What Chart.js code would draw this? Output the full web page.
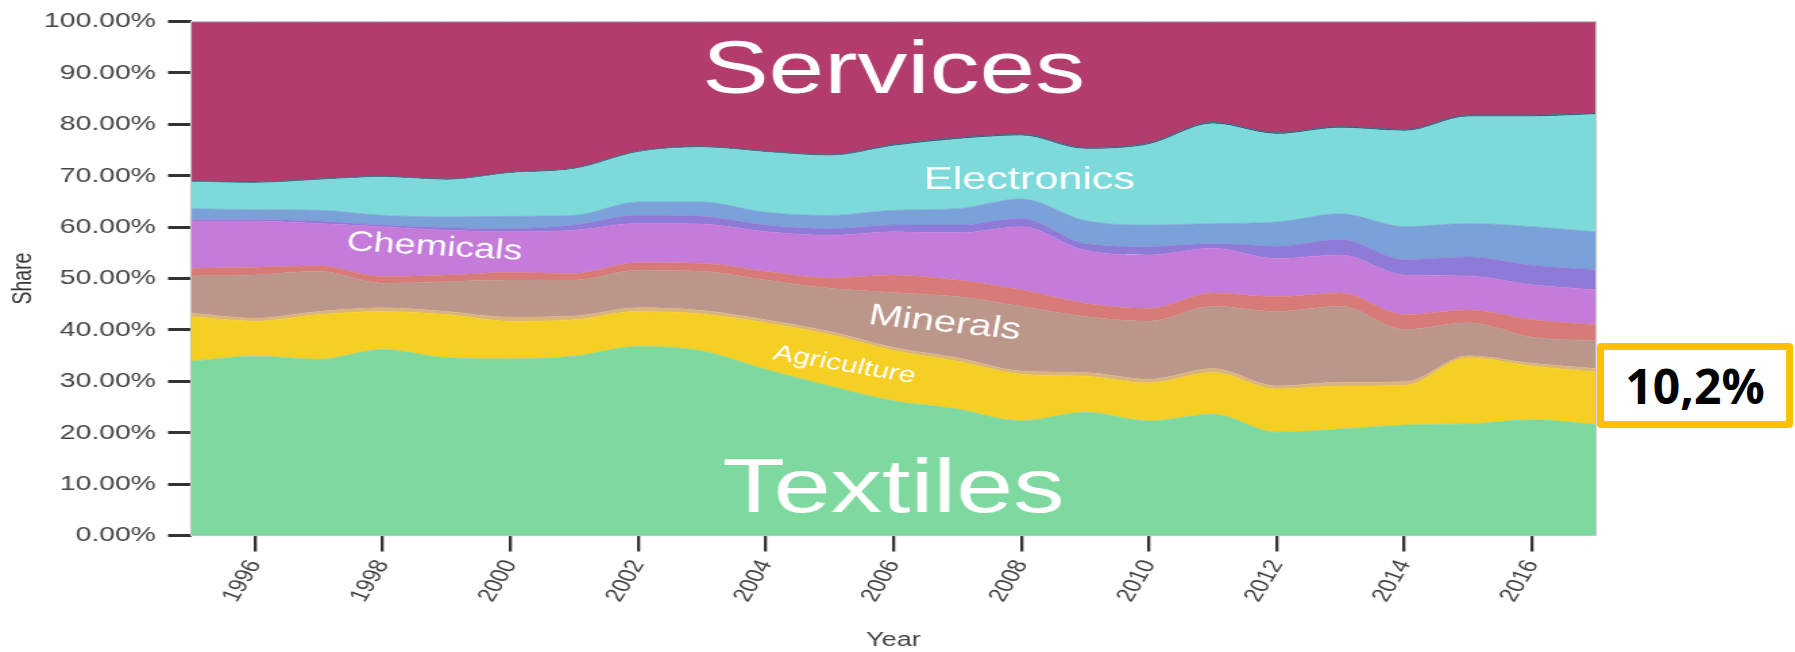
<!DOCTYPE html>
<html>
<head>
<meta charset="utf-8">
<script src="https://cdn.jsdelivr.net/npm/chart.js@4.4.1/dist/chart.umd.min.js"></script>
<style>
  html, body { margin: 0; padding: 0; background: #fff; overflow: hidden; }
  #chart { position: absolute; left: 0; top: 0; transform: scaleX(1.3496); transform-origin: 0 0; }
  #note {
    position: absolute; left: 1597px; top: 343px; width: 196px; height: 85px;
    box-sizing: border-box; border: 7px solid #ffc000; border-radius: 4px; background: #fff;
    display: flex; align-items: center; justify-content: center;
    font-family: "Open Sans", sans-serif; font-weight: 700; font-size: 48px; color: #000;
  }
</style>
</head>
<body>
<canvas id="chart" width="1330" height="652"></canvas>
<div id="note">10,2%</div>
<script>
"use strict";

const years = [1995, 1996, 1997, 1998, 1999, 2000, 2001, 2002, 2003, 2004, 2005, 2006,
  2007, 2008, 2009, 2010, 2011, 2012, 2013, 2014, 2015, 2016, 2017];

// shares in %, bottom band first
const textiles    = [33.9, 34.9, 34.3, 36.2, 34.6, 34.4, 34.9, 36.8, 35.9, 32.3, 29.1, 26.2, 24.6, 22.3, 24.0, 22.3, 23.6, 20.1, 20.7, 21.5, 21.7, 22.5, 21.6];
const agriculture = [8.7, 6.8, 8.7, 7.4, 8.4, 7.3, 7.1, 6.8, 7.2, 9.1, 10.0, 9.8, 9.3, 9.1, 7.0, 7.4, 8.1, 8.4, 8.4, 7.7, 12.9, 10.5, 10.2];
const stone       = [0.7, 0.6, 0.6, 0.7, 0.6, 0.8, 0.7, 0.7, 0.7, 0.6, 0.6, 0.6, 0.7, 0.6, 0.7, 0.7, 0.8, 0.6, 0.7, 0.7, 0.4, 0.5, 0.7];
const minerals    = [7.2, 8.4, 7.8, 4.8, 5.8, 7.2, 7.0, 7.3, 7.6, 7.7, 8.4, 10.7, 11.9, 12.6, 10.9, 11.3, 12.1, 14.5, 14.8, 10.2, 6.4, 5.1, 5.4];
const metals      = [1.5, 1.5, 1.1, 1.3, 1.3, 1.5, 1.3, 1.5, 1.6, 1.7, 2.0, 3.4, 3.2, 3.2, 2.6, 2.5, 2.6, 2.9, 2.6, 2.9, 2.5, 3.4, 3.1];
const chemicals   = [9.2, 9.0, 8.2, 9.7, 8.7, 7.9, 8.4, 7.6, 7.6, 7.7, 8.3, 8.4, 9.2, 12.3, 10.3, 10.4, 8.7, 7.4, 7.4, 7.7, 6.6, 6.8, 6.8];
const vehicles    = [0.3, 0.3, 0.5, 0.3, 0.5, 0.6, 1.0, 1.6, 1.5, 1.3, 1.3, 1.3, 1.5, 1.6, 1.3, 1.6, 0.9, 2.4, 3.0, 3.0, 3.7, 3.8, 3.9];
const machinery   = [2.1, 1.9, 2.1, 1.9, 2.1, 2.4, 1.9, 2.6, 2.8, 2.5, 2.6, 2.9, 3.2, 3.8, 4.5, 4.2, 3.9, 4.7, 5.0, 6.4, 6.5, 7.5, 7.4];
const electronics = [5.2, 5.2, 5.9, 7.4, 7.2, 8.4, 9.0, 9.7, 10.6, 11.7, 11.6, 12.5, 13.5, 12.3, 13.9, 15.7, 19.4, 17.1, 16.7, 18.6, 20.8, 21.4, 22.8];
const other       = [0.2, 0.2, 0.2, 0.2, 0.2, 0.2, 0.2, 0.2, 0.2, 0.2, 0.2, 0.3, 0.3, 0.3, 0.3, 0.3, 0.3, 0.3, 0.3, 0.3, 0.3, 0.3, 0.3];
const services    = [31.0, 31.2, 30.6, 30.1, 30.6, 29.3, 28.5, 25.2, 24.3, 25.2, 25.9, 23.9, 22.6, 21.9, 24.5, 23.6, 19.6, 21.6, 20.4, 21.0, 18.2, 18.2, 17.8];

const yearTicks = [1996, 1998, 2000, 2002, 2004, 2006, 2008, 2010, 2012, 2014, 2016];
const shareTicks = [0, 10, 20, 30, 40, 50, 60, 70, 80, 90, 100];

const font = '"Liberation Sans", Arial, sans-serif';

const series = [
  { name: "Textiles", values: textiles, color: "#7ed9a0" },
  { name: "Agriculture", values: agriculture, color: "#f5cf23" },
  { name: "Stone", values: stone, color: "#dab47d" },
  { name: "Minerals", values: minerals, color: "#bb968a" },
  { name: "Metals", values: metals, color: "#d87a78" },
  { name: "Chemicals", values: chemicals, color: "#c47bd9" },
  { name: "Vehicles", values: vehicles, color: "#8e7bd8" },
  { name: "Machinery", values: machinery, color: "#7ba2d8" },
  { name: "Electronics", values: electronics, color: "#7ddada" },
  { name: "Other", values: other, color: "#2a607c" },
  { name: "Services", values: services, color: "#b23d6d" },
];

// text written on the bands, placed in data units
const bandLabels = [
  { text: "Services", year: 2006.0, share: 86.2, size: 74, angle: 0 },
  { text: "Textiles", year: 2006.0, share: 4.6, size: 76, angle: 0 },
  { text: "Electronics", year: 2008.13, share: 67.5, size: 32, angle: 0 },
  { text: "Chemicals", year: 1998.8, share: 54.6, size: 28, angle: 4.4 },
  { text: "Minerals", year: 2006.78, share: 39.7, size: 30, angle: 7.9 },
  { text: "Agriculture", year: 2005.2, share: 32.0, size: 22.5, angle: 13 },
];

const datasets = series.map((s, i) => ({
  label: s.name,
  data: years.map((yr, j) => ({ x: yr, y: s.values[j] })),
  backgroundColor: s.color,
  borderColor: s.color,
  borderWidth: 0.6,
  fill: i === 0 ? "origin" : "-1",
  pointRadius: 0,
  cubicInterpolationMode: "monotone",
}));

const framePlugin = {
  id: "frame",
  afterDatasetsDraw(chart) {
    const { ctx, chartArea: a } = chart;
    ctx.save();
    ctx.strokeStyle = "#c4c4c4";
    ctx.lineWidth = 1.2;
    ctx.strokeRect(a.left, a.top, a.width, a.height);
    ctx.restore();
  },
};

const labelPlugin = {
  id: "bandLabels",
  afterDatasetsDraw(chart) {
    const { ctx } = chart;
    const xs = chart.scales.x;
    const ys = chart.scales.y;
    ctx.save();
    ctx.fillStyle = "#ffffff";
    ctx.textAlign = "center";
    ctx.textBaseline = "alphabetic";
    for (let i = 0; i < bandLabels.length; i++) {
      const l = bandLabels[i];
      ctx.save();
      ctx.translate(xs.getPixelForValue(l.year), ys.getPixelForValue(l.share));
      ctx.rotate((l.angle * Math.PI) / 180);
      ctx.font = `${l.size}px ${font}`;
      ctx.fillText(l.text, 0, 0);
      ctx.restore();
    }
    ctx.restore();
  },
};

new Chart(document.getElementById("chart"), {
  type: "line",
  data: { datasets: datasets },
  plugins: [framePlugin, labelPlugin],
  options: {
    responsive: false,
    animation: false,
    layout: { padding: { top: 18.5, right: 147.4, left: 0, bottom: 0 } },
    plugins: { legend: { display: false }, tooltip: { enabled: false } },
    scales: {
      x: {
        type: "linear",
        min: 1995,
        max: 2017,
        afterFit(scale) { scale.height = 116.5; },
        afterBuildTicks(scale) { scale.ticks = yearTicks.map((v) => ({ value: v })); },
        grid: { drawOnChartArea: false, tickLength: 16, color: "#333", lineWidth: 2.3 },
        border: { display: false },
        ticks: {
          autoSkip: false, minRotation: 65, maxRotation: 65, padding: 5,
          color: "#444", font: { size: 19.5, family: font },
          callback: (v) => String(v),
        },
        title: { display: true, text: "Year", color: "#444", font: { size: 20, family: font }, padding: 0 },
      },
      y: {
        stacked: true,
        min: 0,
        max: 100,
        afterFit(scale) { scale.width = 141.5; },
        afterBuildTicks(scale) { scale.ticks = shareTicks.map((v) => ({ value: v })); },
        grid: { drawOnChartArea: false, tickLength: 17, color: "#333", lineWidth: 3 },
        border: { display: false },
        ticks: {
          padding: 9, color: "#444", font: { size: 21, family: font },
          callback: (v) => v.toFixed(2) + "%",
        },
        title: { display: true, text: "Share", color: "#333", font: { size: 19.5, family: font }, padding: { top: 6, bottom: 0 } },
      },
    },
  },
});
</script>
</body>
</html>
